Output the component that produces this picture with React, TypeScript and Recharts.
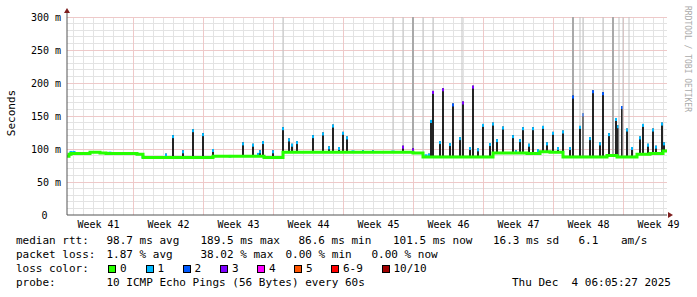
import React from 'react';
import { ComposedChart, Bar, Line, XAxis, YAxis, CartesianGrid, ReferenceDot } from 'recharts';

// time axis is in days from the left edge of the graph (60 days shown)
const weekLabels = ['Week 41', 'Week 42', 'Week 43', 'Week 44', 'Week 45', 'Week 46', 'Week 47', 'Week 48', 'Week 49'];
const weekStartDays = [-0.35, 6.65, 13.65, 20.65, 27.65, 34.65, 41.65, 48.65, 55.65];
const yTicks = [0, 50, 100, 150, 200, 250, 300];
const X_DOMAIN: [number, number] = [0, 60];
const Y_DOMAIN: [number, number] = [0, 300];

// median rtt baseline, [day, ms] steps
const medianSteps: [number, number][] = [
  [0, 89], [0.2, 92], [0.4, 93], [2.3, 95], [3.3, 94], [3.9, 93], [7.0, 92], [7.6, 87],
  [14.6, 89], [19.7, 87], [21.6, 95], [34.6, 94], [35.6, 88], [42.6, 94], [46.0, 93],
  [47.3, 96], [48.3, 95], [49.6, 88], [54.0, 90], [55.0, 88], [57.0, 92], [58.3, 93],
  [59.6, 97], [60, 97],
];

// rtt spikes, [day, peak ms, loss level of the median]
const spikes: [number, number, number][] = [
  [9.9, 93, 1], [10.57, 121, 1], [11.57, 98, 1], [12.63, 130, 1], [13.63, 124, 1], [14.63, 100, 1],
  [17.63, 110, 1], [18.63, 108, 1], [19.1, 94, 1], [19.3, 98, 1], [19.63, 112, 1], [20.63, 98, 1],
  [21.63, 133, 1], [22.23, 116, 1], [22.47, 108, 1], [22.97, 112, 1],
  [24.57, 121, 1], [25.57, 125, 1], [26.23, 104, 1], [26.57, 137, 1], [27.23, 103, 1], [27.57, 126, 1],
  [27.97, 119, 1], [29.57, 98, 1], [30.63, 98, 1], [31.63, 97, 1], [33.63, 105, 3], [34.63, 101, 3],
  [36.23, 93, 1], [36.37, 144, 1], [36.57, 188, 3], [37.3, 112, 1], [37.57, 192, 3], [38.3, 109, 1],
  [38.57, 169, 2], [39.3, 118, 1], [39.57, 172, 3], [40.3, 103, 1], [40.57, 196, 3], [41.13, 101, 1],
  [41.57, 138, 1], [42.3, 109, 1], [42.57, 140, 1], [42.97, 115, 1], [43.57, 134, 1],
  [44.57, 121, 1], [44.9, 98, 1], [45.3, 115, 1], [45.57, 133, 1], [46.2, 108, 1], [46.57, 133, 1],
  [47.1, 100, 1], [47.57, 135, 1], [48.03, 110, 1], [48.57, 126, 1], [49.1, 103, 1], [49.57, 128, 1],
  [50.3, 103, 1], [50.57, 181, 2], [51.3, 135, 1], [51.57, 154, 2], [52.3, 118, 1], [52.57, 189, 2],
  [53.3, 110, 1], [53.57, 186, 2], [54.23, 124, 1], [54.57, 154, 2], [54.9, 147, 1], [55.13, 136, 1],
  [55.47, 165, 2], [56.03, 131, 1], [56.47, 103, 1], [57.3, 119, 1], [57.57, 138, 1], [58.1, 108, 1],
  [58.57, 131, 1], [58.9, 105, 1], [59.47, 140, 1], [59.7, 110, 1],
];

// slots where the slowest pings went off the top of the graph, [day, density]
const outlierSmoke: [number, number][] = [
  [21.63, 1], [32.63, 1], [33.63, 1], [34.63, 2], [35.63, 1], [36.57, 1], [39.53, 1],
  [50.57, 2], [51.3, 1], [51.63, 1], [53.57, 1], [54.63, 2], [55.23, 1], [55.6, 1], [56.23, 1],
];

// short lossy median stretches on the baseline, [day, ms, loss level]
const lossMarks: [number, number, number][] = [
  [0.45, 95, 1], [0.75, 95, 1], [4.33, 94, 1], [7.65, 88, 1], [16.3, 89, 1], [28.6, 96, 1], [32.6, 96, 1], [35.9, 90, 1],
];

const lossColors = ['#26ff00', '#00b8ff', '#0059ff', '#7e00ff', '#ff00ff', '#ff5500', '#ff0000', '#a10000'];
const lossLabels = ['0', '1', '2', '3', '4', '5', '6-9', '10/10'];

const rttLine: [number, string][] = [
  [16, 'median rtt:'], [106.5, '98.7 ms avg'], [200.5, '189.5 ms max'], [298.5, '86.6 ms min'],
  [393, '101.5 ms now'], [493, '16.3 ms sd'], [578.5, '6.1'], [621, 'am/s'],
];
const lossLine: [number, string][] = [
  [16, 'packet loss:'], [106.5, '1.87 % avg'], [200.5, '38.02 % max'], [285.5, '0.00 % min'], [371.5, '0.00 % now'],
];
const probeLine: [number, string][] = [
  [16, 'probe:'], [106.5, '10 ICMP Echo Pings (56 Bytes) every 60s'], [512, 'Thu Dec  4 06:05:27 2025'],
];

const MONO = '"DejaVu Sans Mono", monospace';

// plot box inside the 697 x 240 chart (600 px for 60 days)
const W = 697;
const H = 240;
const PLOT = { left: 67, top: 17, width: 600, height: 198 };
const X_AXIS_H = 20;

const medianAt = (t: number) => {
  let v = medianSteps[0][1];
  for (const [d, ms] of medianSteps) if (d <= t) v = ms;
  return v;
};

const rows: any[] = [
  ...medianSteps.map(([t, med]) => ({ t, med })),
  ...outlierSmoke.map(([t, density]) => ({ t, range: [medianAt(t), 300], kind: 'out', density })),
  ...spikes.map(([t, top, level]) => ({ t, range: [medianAt(t), top], kind: 'spike', level })),
  ...lossMarks.map(([t, ms, level]) => ({ t, range: [ms - 2, ms + 2], kind: 'mark', level })),
].sort((a, b) => a.t - b.t);

const isWeekStart = (d: number) => weekStartDays.some((w) => Math.abs(w - d) < 1e-6);
const dayGrid = Array.from({ length: 60 }, (_, i) => weekStartDays[0] + 1 + i);
const minorDays = dayGrid.filter((d) => !isWeekStart(d));
const majorDays = dayGrid.filter((d) => isWeekStart(d));
const minorMs = Array.from({ length: 30 }, (_, i) => (i + 1) * 10).filter((v) => v % 50 !== 0);
const majorMs = yTicks.filter((v) => v > 0);
const weekMid = weekStartDays.map((w) => w + 3.5);

// grid line pixels, snapped to pixel centres like rrdtool does
const snap = (v: number) => Math.floor(v) + 0.5;
const gx = (d: number) => snap(PLOT.left + ((d - X_DOMAIN[0]) / (X_DOMAIN[1] - X_DOMAIN[0])) * PLOT.width);
const gy = (v: number) => snap(PLOT.top + PLOT.height - ((v - Y_DOMAIN[0]) / (Y_DOMAIN[1] - Y_DOMAIN[0])) * PLOT.height);

// dotted rrdtool grid, drawn as its average tone
const GRID_MINOR = '#e3e3e3';
const GRID_MAJOR = '#eec9c9';

const SmokeShape = (props: any) => {
  const { x, y, width, height, payload } = props;
  if (!payload || !payload.kind || !isFinite(x) || !isFinite(y) || !isFinite(height)) return <g />;
  const cx = Math.round(x + width / 2);
  const top = Math.min(y, y + height);
  const h = Math.abs(height);
  if (payload.kind === 'out') {
    const w = payload.density > 1 ? 2 : 1;
    return <rect x={cx - w / 2} y={top} width={w} height={h} fill={payload.density > 1 ? '#a9a9a9' : '#c2c2c2'} />;
  }
  if (payload.kind === 'mark') {
    return <rect x={cx - 1.5} y={top} width={3} height={h} fill={lossColors[payload.level]} />;
  }
  return (
    <g>
      <rect x={cx - 1} y={top} width={2} height={h} fill="#242424" />
      <rect x={cx - 1} y={top} width={2} height={Math.min(3, h)} fill={lossColors[payload.level]} />
    </g>
  );
};

const YTick = ({ y, payload }: any) => (
  <text x={payload.value === 0 ? 47.5 : 61} y={y} dy={3.5} textAnchor="end" fontFamily={MONO} fontSize={10} fill="#000">
    {payload.value === 0 ? '0' : `${payload.value} m`}
  </text>
);

const XTick = ({ x, y, index }: any) => (
  <text x={x} y={y} dy={11} textAnchor="middle" fontFamily={MONO} fontSize={10} fill="#000">
    {weekLabels[index]}
  </text>
);

const UpArrow = ({ cx, cy }: any) => (
  <g>
    <line x1={cx} y1={cy} x2={cx} y2={cy - 4} stroke="#555" />
    <path d={`M${cx - 3},${cy - 4} L${cx + 3},${cy - 4} L${cx},${cy - 9} Z`} fill="#7f1f1f" />
  </g>
);

const RightArrow = ({ cx, cy }: any) => (
  <path d={`M${cx + 1},${cy - 3} L${cx + 1},${cy + 3} L${cx + 6},${cy} Z`} fill="#7f1f1f" />
);

const TextRow = ({ top, parts }: { top: number; parts: [number, string][] }) => (
  <>
    {parts.map(([x, s], i) => (
      <span key={i} style={{ position: 'absolute', left: x, top, whiteSpace: 'pre', lineHeight: '14px' }}>{s}</span>
    ))}
  </>
);

const lossBoxX = [108, 145.5, 182.5, 220, 257, 294, 331, 381.5];

export default function App() {
  const margin = { top: PLOT.top, right: W - PLOT.left - PLOT.width, left: 0, bottom: H - PLOT.top - PLOT.height - X_AXIS_H };
  return (
    <div style={{ position: 'fixed', left: 0, top: 0, width: 697, height: 297, background: '#fff', fontFamily: MONO, fontSize: 11, color: '#000', overflow: 'hidden' }}>
      <ComposedChart width={W} height={H} data={rows} margin={margin}>
        <CartesianGrid stroke={GRID_MINOR} strokeWidth={1}
          verticalPoints={minorDays.map(gx)} horizontalPoints={minorMs.map(gy)} />
        <CartesianGrid stroke={GRID_MAJOR} strokeWidth={1}
          verticalPoints={majorDays.map(gx)} horizontalPoints={majorMs.map(gy)} />
        <XAxis dataKey="t" type="number" domain={X_DOMAIN} allowDataOverflow ticks={weekMid} interval={0} tick={<XTick />} tickLine={false} tickSize={0} tickMargin={2} height={X_AXIS_H} axisLine={{ stroke: '#555' }} />
        <YAxis type="number" domain={Y_DOMAIN} allowDataOverflow ticks={yTicks} interval={0} tick={<YTick />} tickLine={false} width={PLOT.left} axisLine={{ stroke: '#555' }} />
        <Bar dataKey="range" barSize={2} shape={<SmokeShape />} isAnimationActive={false} />
        <Line dataKey="med" type="stepAfter" stroke={lossColors[0]} strokeWidth={3} dot={false} connectNulls isAnimationActive={false} />
        <ReferenceDot x={0} y={300} r={0} ifOverflow="visible" shape={<UpArrow />} />
        <ReferenceDot x={60} y={0} r={0} ifOverflow="visible" shape={<RightArrow />} />
      </ComposedChart>

      <div style={{ position: 'absolute', left: 11, top: 113, transform: 'translate(-50%, -50%) rotate(-90deg)', whiteSpace: 'pre', lineHeight: '13px' }}>Seconds</div>
      <div style={{ position: 'absolute', left: 687, top: 59, transform: 'translate(-50%, -50%) rotate(90deg)', whiteSpace: 'pre', fontSize: 8, color: '#aaaaaa', lineHeight: '9px' }}>RRDTOOL / TOBI OETIKER</div>

      <TextRow top={234} parts={rttLine} />
      <TextRow top={248} parts={lossLine} />
      <span style={{ position: 'absolute', left: 16, top: 262, lineHeight: '14px' }}>loss color:</span>
      {lossLabels.map((lab, i) => (
        <React.Fragment key={lab}>
          <span style={{ position: 'absolute', left: lossBoxX[i], top: 265, width: 6, height: 6, border: '1px solid #000', background: lossColors[i] }} />
          <span style={{ position: 'absolute', left: lossBoxX[i] + 12, top: 262, lineHeight: '14px' }}>{lab}</span>
        </React.Fragment>
      ))}
      <TextRow top={276} parts={probeLine} />
    </div>
  );
}
